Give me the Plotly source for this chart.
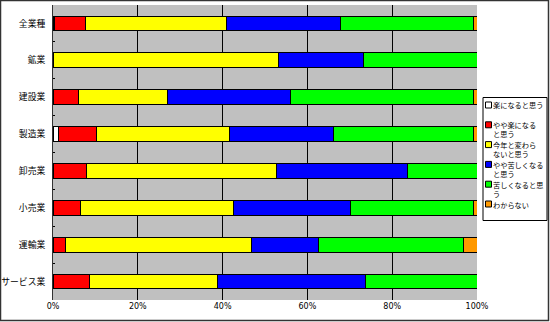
import plotly.graph_objects as go

# Industries (top to bottom) and the share of each answer, in percent
categories = ["全業種", "鉱業", "建設業", "製造業", "卸売業", "小売業", "運輸業", "サービス業"]

series_names = [
    "楽になると思う",
    "やや楽になると思う",
    "今年と変わらないと思う",
    "やや苦しくなると思う",
    "苦しくなると思う",
    "わからない",
]
legend_labels = [
    "楽になると思う",
    "やや楽になる<br>と思う",
    "今年と変わら<br>ないと思う",
    "やや苦しくなる<br>と思う",
    "苦しくなると思<br>う",
    "わからない",
]
colors = ["#ffffff", "#ff0000", "#ffff00", "#0000ff", "#00ff00", "#ff9900"]

easier = [0.4, 0.0, 0.0, 1.3, 0.0, 0.0, 0.0, 0.0]
slightly_easier = [7.2, 0.0, 6.1, 8.9, 8.0, 6.4, 2.9, 8.5]
unchanged = [33.3, 53.3, 21.0, 31.4, 44.7, 36.2, 43.9, 30.3]
slightly_harder = [26.8, 20.0, 28.8, 24.5, 30.8, 27.6, 15.7, 34.9]
harder = [31.4, 26.7, 43.3, 33.1, 16.5, 28.9, 34.2, 26.3]
unknown = [0.9, 0.0, 0.8, 0.8, 0.0, 0.9, 3.3, 0.0]

x_ticks = [0, 20, 40, 60, 80, 100]
x_tick_labels = ["0%", "20%", "40%", "60%", "80%", "100%"]

values = [easier, slightly_easier, unchanged, slightly_harder, harder, unknown]

W, H = 550, 322
L, R, T, B = 53, 73, 5, 22
pw, ph = W - L - R, H - T - B

fig = go.Figure()
for name, vals, col in zip(series_names, values, colors):
    fig.add_trace(go.Bar(
        y=categories, x=vals, name=name, orientation="h",
        marker=dict(color=col, line=dict(color="#000000", width=1)),
        showlegend=False,
    ))


def px_x(px):
    return (px - L) / pw


def px_y(py):
    return (H - B - py) / ph


shapes = [
    # outer frame of the chart
    dict(type="rect", xref="paper", yref="paper",
         x0=px_x(0.5), x1=px_x(548.5), y0=px_y(320.5), y1=px_y(0.5),
         line=dict(color="#333333", width=1.5), layer="above"),
]
annotations = []

# hand-built legend box on the right
lx0, lx1, ly0, ly1 = 483, 547, 97.5, 220.5
shapes.append(dict(type="rect", xref="paper", yref="paper",
                   x0=px_x(lx0), x1=px_x(lx1), y0=px_y(ly1), y1=px_y(ly0),
                   line=dict(color="#000000", width=1), fillcolor="#ffffff",
                   layer="above"))
for i, (lab, col) in enumerate(zip(legend_labels, colors)):
    cy = 105 + i * 19.8
    shapes.append(dict(type="rect", xref="paper", yref="paper",
                       x0=px_x(485.5), x1=px_x(491.5),
                       y0=px_y(cy + 3), y1=px_y(cy - 3),
                       line=dict(color="#000000", width=1), fillcolor=col,
                       layer="above"))
    annotations.append(dict(
        xref="paper", yref="paper", x=px_x(492), y=px_y(cy - 5.5),
        xanchor="left", yanchor="top", text=lab, showarrow=False,
        align="left", borderpad=0,
        font=dict(size=7.2, color="#000000", family="Noto Sans CJK JP"),
    ))

fig.update_layout(
    width=W, height=H,
    margin=dict(l=L, r=R, t=T, b=B, autoexpand=False),
    barmode="stack", bargap=0.6,
    paper_bgcolor="#ffffff", plot_bgcolor="#c0c0c0",
    font=dict(family="Noto Sans CJK JP", color="#000000"),
    shapes=shapes, annotations=annotations,
    xaxis=dict(
        range=[0, 100], tickvals=x_ticks, ticktext=x_tick_labels,
        showgrid=True, gridcolor="#000000", gridwidth=1,
        zeroline=False, showline=False, ticks="", automargin=False,
        tickfont=dict(size=8, family="DejaVu Sans"),
    ),
    yaxis=dict(
        categoryorder="array", categoryarray=categories, autorange="reversed",
        showline=True, linecolor="#333333", linewidth=1, automargin=False,
        ticks="inside", ticklen=2, tickcolor="#000000", tickson="boundaries",
        showgrid=False, tickfont=dict(size=8.8), ticklabelstandoff=5,
    ),
)

fig.write_html("out.html")
